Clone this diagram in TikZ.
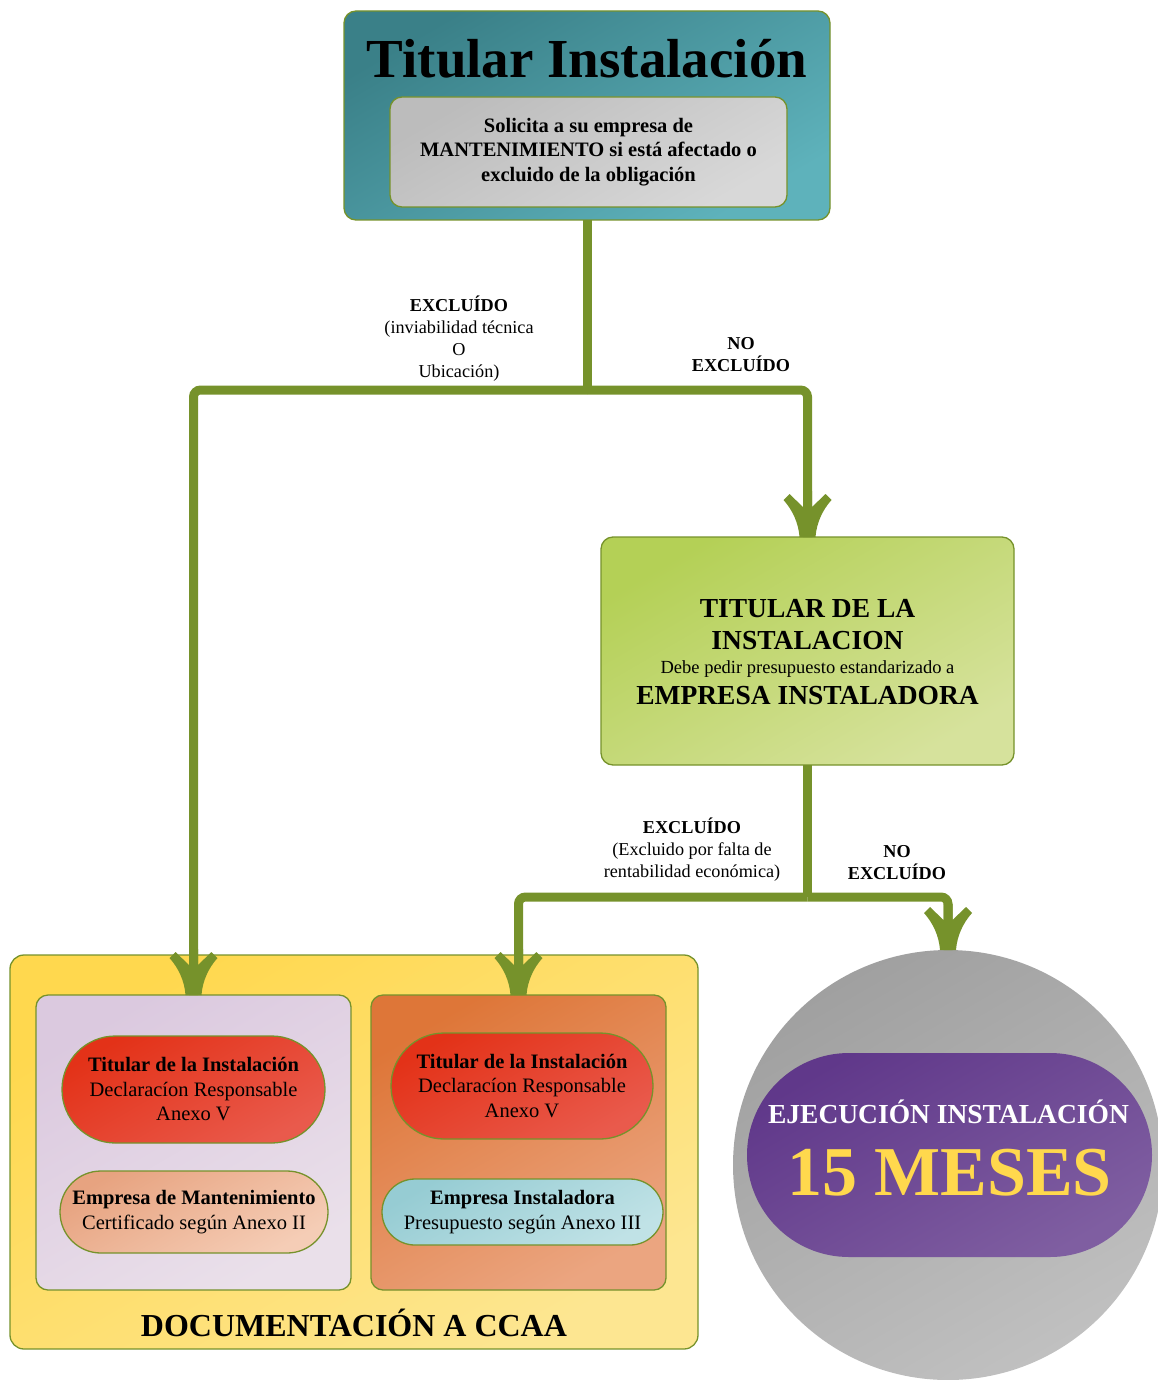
\documentclass[tikz,border=0pt]{standalone}
\usepackage{fontspec}
\setmainfont{Liberation Serif}
\usetikzlibrary{shapes.misc}
\definecolor{olv}{RGB}{118,146,43}
\definecolor{tealA}{RGB}{58,128,136}
\definecolor{tealB}{RGB}{94,178,187}
\definecolor{grayA}{RGB}{188,188,188}
\definecolor{grayB}{RGB}{216,216,216}
\definecolor{grnA}{RGB}{180,208,86}
\definecolor{grnB}{RGB}{214,226,156}
\definecolor{ylwA}{RGB}{255,216,78}
\definecolor{ylwB}{RGB}{253,230,145}
\definecolor{lilA}{RGB}{219,201,223}
\definecolor{lilB}{RGB}{234,224,234}
\definecolor{orgA}{RGB}{222,118,56}
\definecolor{orgB}{RGB}{235,165,128}
\definecolor{redA}{RGB}{227,50,24}
\definecolor{redB}{RGB}{233,90,76}
\definecolor{pchA}{RGB}{231,163,128}
\definecolor{pchB}{RGB}{245,205,182}
\definecolor{bluA}{RGB}{150,204,211}
\definecolor{bluB}{RGB}{192,226,230}
\definecolor{cirA}{RGB}{160,160,160}
\definecolor{cirB}{RGB}{192,192,192}
\definecolor{purA}{RGB}{96,56,138}
\definecolor{purB}{RGB}{127,94,161}
\definecolor{ytxt}{RGB}{255,216,77}
\begin{document}
\begin{tikzpicture}[x=1pt,y=-1pt,
  diag/.style 2 args={top color=#1, bottom color=#2, shading angle=30},
  box/.style={draw=olv, line width=1.3pt, rounded corners=12pt, inner sep=0pt, outer sep=0pt},
  pill/.style={draw=olv, line width=1.3pt, rounded rectangle, inner sep=0pt, outer sep=0pt, align=center, font=\fontsize{20.5}{24.5}\selectfont},
  conn/.style={draw=olv, line width=9pt, rounded corners=7pt},
  lbl/.style={align=center, font=\fontsize{18.2}{22}\selectfont, inner sep=0pt},
  forktip/.pic={\fill[olv] (-8,0) -- (8,0) .. controls (9,-14) and (15,-27) .. (24,-37) -- (18,-43) -- (4.5,-30) -- (4.5,-46) -- (-4.5,-46) -- (-4.5,-30) -- (-18,-43) -- (-24,-37) .. controls (-15,-27) and (-9,-14) .. (-8,0) -- cycle;}
]
\useasboundingbox (0,0) rectangle (1158,1380);
\clip (0,0) rectangle (1158,1380);

% top box
\node[box, diag={tealA}{tealB}, minimum width=486pt, minimum height=209pt] (top) at (587,115.5) {};
\node[anchor=base, inner sep=0pt, font=\fontsize{55}{60}\selectfont\bfseries] (title) at (587,78) {Titular Instalación};
\node[box, diag={grayA}{grayB}, minimum width=397pt, minimum height=110pt, align=center, font=\fontsize{20.5}{24.5}\selectfont\bfseries] (ask) at (588.5,152) {Solicita a su empresa de\\MANTENIMIENTO si está afectado o\\excluido de la obligación};

% green box
\node[box, diag={grnA}{grnB}, minimum width=413pt, minimum height=228pt] (green) at (807.5,651) {};
\node[anchor=base, inner sep=0pt, font=\fontsize{27.5}{32}\selectfont\bfseries] (g1) at (807.5,617) {TITULAR DE LA};
\node[anchor=base, inner sep=0pt, font=\fontsize{27.5}{32}\selectfont\bfseries] (g2) at (807.5,649) {INSTALACION};
\node[anchor=base, inner sep=0pt, font=\fontsize{18.5}{22}\selectfont] (g3) at (807.5,673) {Debe pedir presupuesto estandarizado a};
\node[anchor=base, inner sep=0pt, font=\fontsize{27.5}{32}\selectfont\bfseries] (g4) at (807.5,704) {EMPRESA INSTALADORA};

% documentation box
\node[box, rounded corners=14pt, diag={ylwA}{ylwB}, minimum width=688pt, minimum height=394pt] (doc) at (354,1152) {};
\node[anchor=base, inner sep=0pt, font=\fontsize{32}{36}\selectfont\bfseries] (doctitle) at (354,1336) {DOCUMENTACIÓN A CCAA};
\node[box, diag={lilA}{lilB}, minimum width=315pt, minimum height=295pt] (lilac) at (193.5,1142.5) {};
\node[box, diag={orgA}{orgB}, minimum width=295pt, minimum height=295pt] (orange) at (518.5,1142.5) {};
\node[pill, diag={redA}{redB}, minimum width=263pt, minimum height=107pt] (red1) at (193.5,1089.5) {\textbf{Titular de la Instalación}\\Declaracíon Responsable\\Anexo V};
\node[pill, diag={pchA}{pchB}, minimum width=268pt, minimum height=82pt] (mant) at (194,1212) {\textbf{Empresa de Mantenimiento}\\Certificado según Anexo II};
\node[pill, diag={redA}{redB}, minimum width=262pt, minimum height=106pt] (red2) at (522,1086) {\textbf{Titular de la Instalación}\\Declaracíon Responsable\\Anexo V};
\node[pill, diag={bluA}{bluB}, minimum width=281pt, minimum height=66pt] (inst) at (522.5,1212) {\textbf{Empresa Instaladora}\\Presupuesto según Anexo III};

% circle
\node[circle, inner sep=0pt, outer sep=0pt, minimum size=430pt, diag={cirA}{cirB}] (circ) at (948,1165) {};
\node[rounded rectangle, inner sep=0pt, minimum width=405pt, minimum height=204pt, diag={purA}{purB}] (exec) at (949.5,1155) {};
\node[anchor=base, inner sep=0pt, text=white, font=\fontsize{27.5}{32}\selectfont\bfseries] (e1) at (948.5,1123) {EJECUCIÓN INSTALACIÓN};
\node[anchor=base, inner sep=0pt, text=ytxt, font=\fontsize{70}{76}\selectfont\bfseries] (e2) at (949.5,1195) {15 MESES};

% connectors
\coordinate (j1) at (587,390);
\coordinate (j2) at (807.5,897);
\draw[conn] (top.south) -- (j1);
\draw[conn] (j1) -| (lilac.north);
\draw[conn] (j1) -| (green.north);
\draw[conn] (green.south) -- (j2);
\draw[conn] (j2) -| (orange.north);
\draw[conn] (j2) -| (circ.north);
\pic at (lilac.north) {forktip};
\pic at (green.north) {forktip};
\pic at (orange.north) {forktip};
\pic at (circ.north) {forktip};

% labels
\node[lbl] (l1) at (459,339) {\textbf{EXCLUÍDO}\\(inviabilidad técnica\\O\\Ubicación)};
\node[lbl, font=\fontsize{18.2}{22}\selectfont\bfseries] (l2) at (741,355) {NO\\EXCLUÍDO};
\node[lbl] (l3) at (692,850) {\textbf{EXCLUÍDO}\\(Excluido por falta de\\rentabilidad económica)};
\node[lbl, font=\fontsize{18.2}{22}\selectfont\bfseries] (l4) at (897,863) {NO\\EXCLUÍDO};
\end{tikzpicture}
\end{document}
